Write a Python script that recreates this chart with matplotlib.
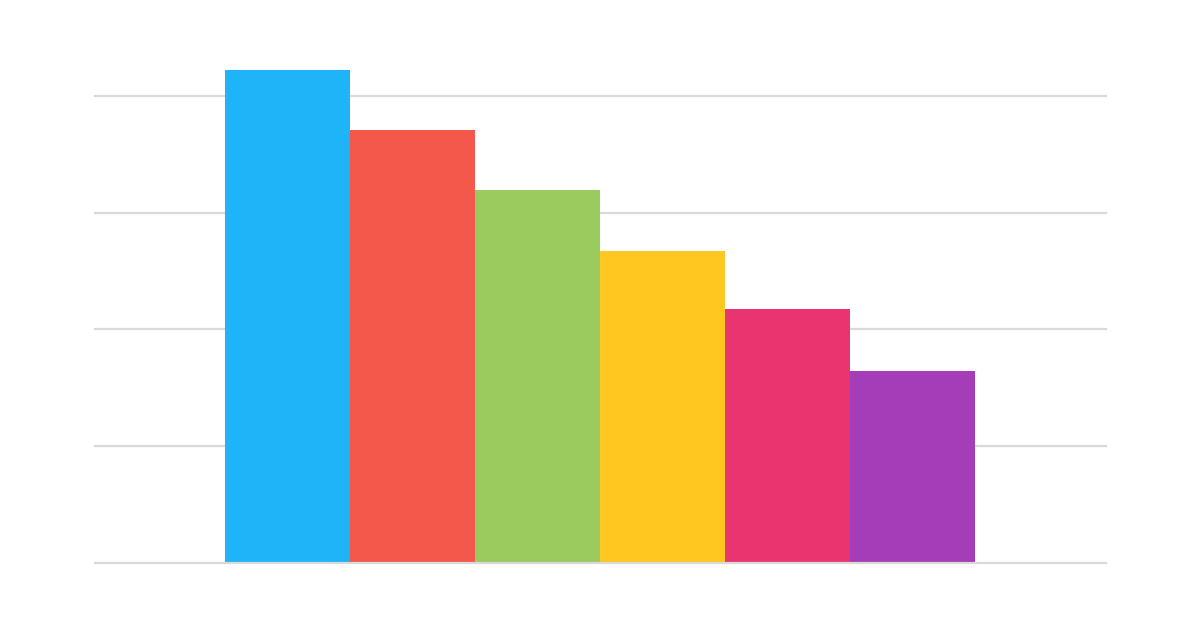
import matplotlib.pyplot as plt

# values, one grid step = 25
categories = ['A', 'B', 'C', 'D', 'E', 'F']
values = [105.5, 92.8, 79.8, 66.7, 54.4, 41.0]
colors = ['#1fb3f7', '#f4584b', '#9bca5e', '#ffc720', '#e93470', '#a53cb8']
grid_ticks = [0, 25, 50, 75, 100]

fig = plt.figure(figsize=(12, 6.3), dpi=100)
ax = fig.add_axes([95 / 1200, (630 - 562.5) / 630, 1011 / 1200, 0.84])

x = list(range(len(categories)))
ax.bar(x, values, width=1.0, color=colors, zorder=2, clip_on=False)

ax.set_xlim(-0.5 - 130 / 125, len(categories) - 0.5 + 131 / 125)
ax.set_ylim(0, 0.84 * 630 / 116.6 * 25)

for t in grid_ticks:
    ax.axhline(t, color='#d9d9d9', linewidth=1.6, zorder=1 if t else 3,
               clip_on=False)

for s in ax.spines.values():
    s.set_visible(False)
ax.set_xticks([])
ax.set_yticks([])

fig.savefig('out.png', dpi=100, facecolor='white')
plt.close(fig)
